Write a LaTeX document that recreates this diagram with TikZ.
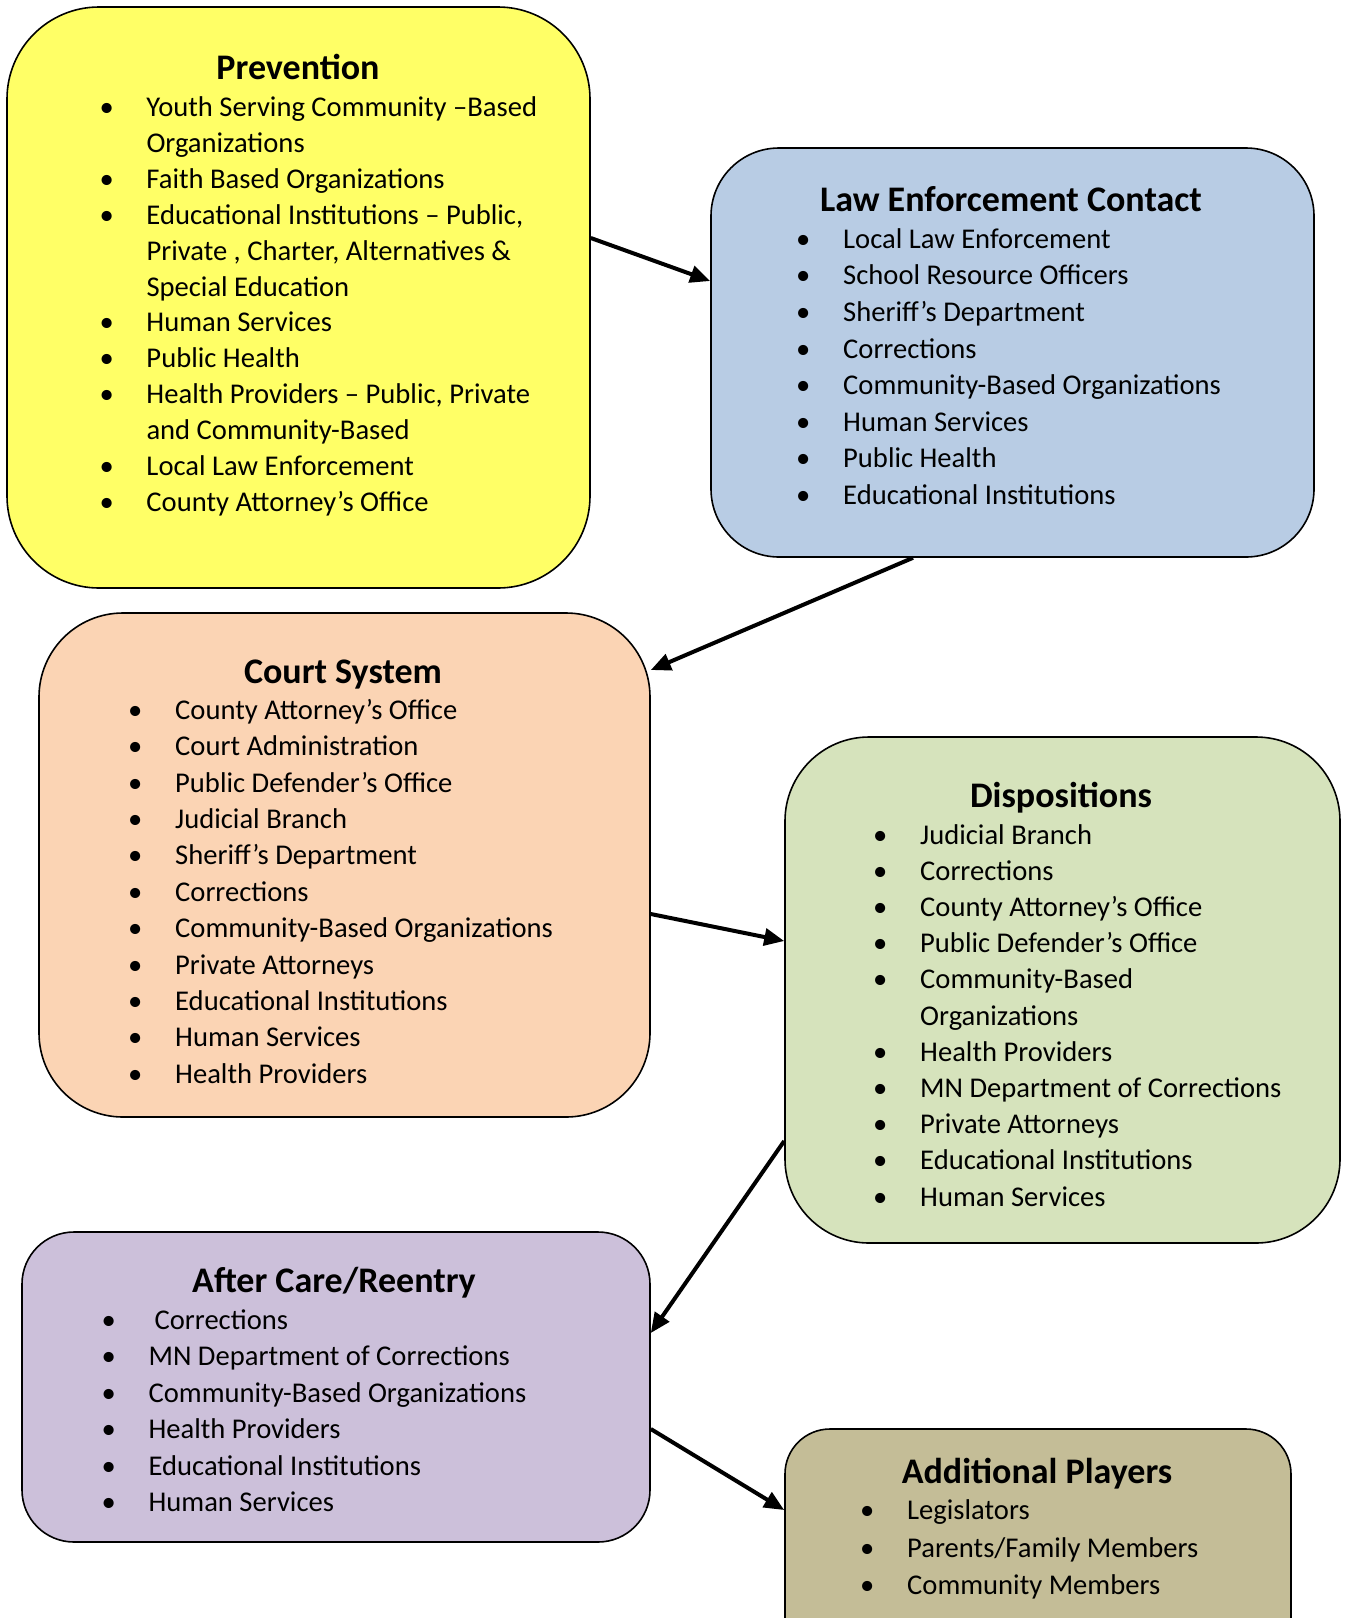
\documentclass[tikz,border=0pt]{standalone}
\usepackage{fontspec}
\setmainfont{Carlito}
\usetikzlibrary{arrows.meta}
\definecolor{prevyellow}{RGB}{255,255,102}
\definecolor{lawblue}{RGB}{184,204,228}
\definecolor{courtpeach}{RGB}{251,212,180}
\definecolor{dispgreen}{RGB}{214,227,188}
\definecolor{afterlilac}{RGB}{204,192,218}
\definecolor{extratan}{RGB}{196,189,151}
\newcommand{\blt}{\makebox[47pt][l]{\textbullet}}
\newcommand{\contline}{\hspace*{47pt}}
\tikzset{
  stage/.style={rectangle, draw=black, line width=1.6pt},
  head/.style={anchor=base, inner sep=0pt,
    font=\fontsize{36}{44}\selectfont\bfseries},
  % anchored at the baseline of the last line
  items/.style={anchor=base west, align=left, inner sep=0pt,
    font=\fontsize{28.6}{#1}\selectfont},
  items/.default=36.4,
  flow/.style={-{Triangle[length=20pt,width=17pt]}, line width=4pt}
}
\begin{document}
\begin{tikzpicture}[x=1pt, y=-1pt]
  \useasboundingbox (0,0) rectangle (1346,1618);
  \clip (0,0) rectangle (1346,1618);
  % Prevention
  \node[stage, fill=prevyellow, minimum width=583pt, minimum height=581pt,
    rounded corners=92pt] (prev) at (298.5,297.5) {};
  \node[head] (prevhead) at (298,79) {Prevention};
  \node[items=35.9] (prevlist) at (99.3,511.4) {\blt Youth Serving Community –Based\\
    \contline Organizations\\
    \blt Faith Based Organizations\\
    \blt Educational Institutions – Public,\\
    \contline Private , Charter, Alternatives \&\\
    \contline Special Education\\
    \blt Human Services\\
    \blt Public Health\\
    \blt Health Providers – Public, Private\\
    \contline and Community-Based\\
    \blt Local Law Enforcement\\
    \blt County Attorney’s Office};
  % Law enforcement contact
  \node[stage, fill=lawblue, minimum width=603pt, minimum height=409pt,
    rounded corners=68pt] (law) at (1012.5,352.5) {};
  \node[head] (lawhead) at (1011,211) {Law Enforcement Contact};
  \node[items=36.6] (lawlist) at (796,504.4) {\blt Local Law Enforcement\\
    \blt School Resource Officers\\
    \blt Sheriff’s Department\\
    \blt Corrections\\
    \blt Community-Based Organizations\\
    \blt Human Services\\
    \blt Public Health\\
    \blt Educational Institutions};
  % Court system
  \node[stage, fill=courtpeach, minimum width=611pt, minimum height=504pt,
    rounded corners=84pt] (court) at (344.5,865) {};
  \node[head] (courthead) at (343,683) {Court System};
  \node[items=36.4] (courtlist) at (128,1083.3) {\blt County Attorney’s Office\\
    \blt Court Administration\\
    \blt Public Defender’s Office\\
    \blt Judicial Branch\\
    \blt Sheriff’s Department\\
    \blt Corrections\\
    \blt Community-Based Organizations\\
    \blt Private Attorneys\\
    \blt Educational Institutions\\
    \blt Human Services\\
    \blt Health Providers};
  % Dispositions
  \node[stage, fill=dispgreen, minimum width=555pt, minimum height=506pt,
    rounded corners=84pt] (disp) at (1062.5,990) {};
  \node[head] (disphead) at (1061,807) {Dispositions};
  \node[items=36.2] (displist) at (873,1206.1) {\blt Judicial Branch\\
    \blt Corrections\\
    \blt County Attorney’s Office\\
    \blt Public Defender’s Office\\
    \blt Community-Based\\
    \contline Organizations\\
    \blt Health Providers\\
    \blt MN Department of Corrections\\
    \blt Private Attorneys\\
    \blt Educational Institutions\\
    \blt Human Services};
  % After care / reentry
  \node[stage, fill=afterlilac, minimum width=628pt, minimum height=310pt,
    rounded corners=52pt] (after) at (336,1387) {};
  \node[head] (afterhead) at (334,1292) {After Care/Reentry};
  \node[items=36.5] (afterlist) at (101.4,1511.6) {\blt\hspace{6pt}Corrections\\
    \blt MN Department of Corrections\\
    \blt Community-Based Organizations\\
    \blt Health Providers\\
    \blt Educational Institutions\\
    \blt Human Services};
  % Additional players (runs off the page)
  \node[stage, fill=extratan, minimum width=506pt, minimum height=270pt,
    rounded corners=45pt] (extra) at (1038,1564) {};
  \node[head] (extrahead) at (1037,1483) {Additional Players};
  \node[items=37.2] (extralist) at (860,1594.2) {\blt Legislators\\
    \blt Parents/Family Members\\
    \blt Community Members};
  % Flow between stages
  \draw[flow] ([yshift=59.5pt]prev.east) -- ([yshift=71.5pt]law.west);
  \draw[flow] ([xshift=-99.5pt]law.south) -- ([yshift=195pt]court.east);
  \draw[flow] ([yshift=-49pt]court.east) -- ([yshift=49pt]disp.west);
  \draw[flow] ([yshift=-151pt]disp.west) -- ([yshift=54pt]after.east);
  \draw[flow] ([yshift=-42pt]after.east) -- ([yshift=54pt]extra.west);
\end{tikzpicture}
\end{document}
